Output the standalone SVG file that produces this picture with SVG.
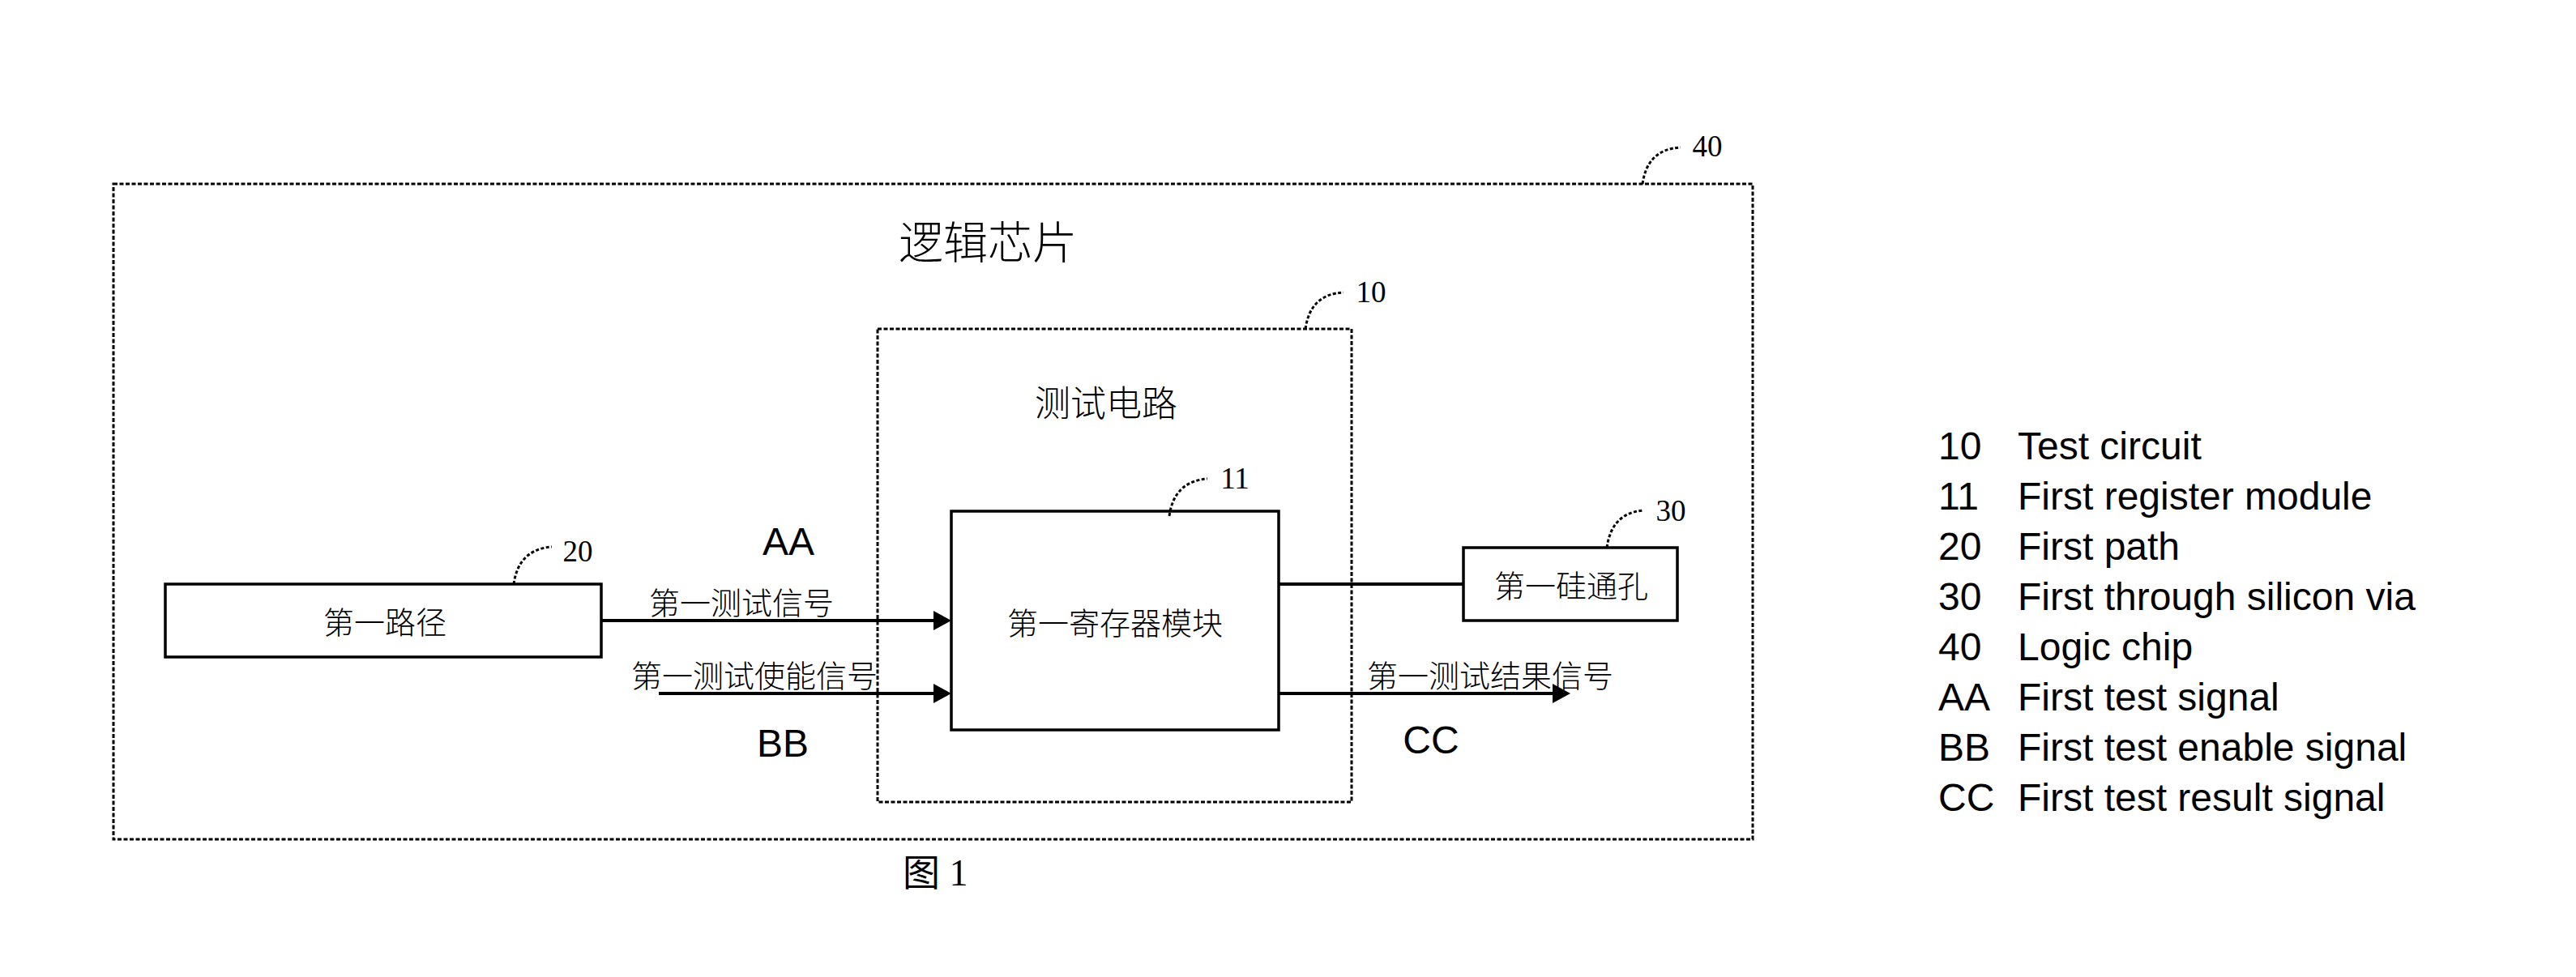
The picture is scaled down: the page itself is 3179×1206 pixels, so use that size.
<svg xmlns="http://www.w3.org/2000/svg" width="3179" height="1206" viewBox="0 0 3179 1206">
<style>
.bg{fill:#fff}
.dashbox{fill:none;stroke:#000;stroke-width:3;stroke-dasharray:5 2.5}
.box{fill:#fff;stroke:#000;stroke-width:3.5}
.lead{fill:none;stroke:#000;stroke-width:3;stroke-dasharray:4 2.5}
.wire{fill:none;stroke:#000;stroke-width:4}
.cjk{font-family:"Noto Sans CJK SC",sans-serif;font-weight:300;fill:#000;text-anchor:middle;dominant-baseline:central}
.num{font-family:"Liberation Serif",serif;font-size:37px;fill:#000;text-anchor:middle}
.sig{font-family:"Liberation Sans",Arial,sans-serif;font-size:48px;fill:#000;text-anchor:middle}
.leg{font-family:"Liberation Sans",Arial,sans-serif;font-size:48px;fill:#000}
</style>
<defs>
<marker id="arr" markerUnits="userSpaceOnUse" markerWidth="22" markerHeight="24" refX="10" refY="12" orient="auto">
<path d="M0,0 L22,12 L0,24 z" fill="#000"/>
</marker>
</defs>
<rect class="bg" x="0" y="0" width="3179" height="1206"/>

<g id="node-40-logic-chip">
<rect class="dashbox" x="140" y="227" width="2023" height="809"/>
<text class="cjk" x="1219" y="295" font-size="55">逻辑芯片</text>
<path class="lead" d="M2027,227 Q2033,184 2074,182"/>
<text class="num" x="2107" y="193">40</text>
</g>

<g id="node-10-test-circuit">
<rect class="dashbox" x="1083" y="406" width="585" height="584"/>
<text class="cjk" x="1365" y="495" font-size="44">测试电路</text>
<path class="lead" d="M1611,406 Q1617,363 1658,361"/>
<text class="num" x="1692" y="373">10</text>
</g>

<g id="node-20-first-path">
<rect class="box" x="204" y="721" width="538" height="90"/>
<text class="cjk" x="475" y="765" font-size="38">第一路径</text>
<path class="lead" d="M634,721 Q640,678 681,675"/>
<text class="num" x="713" y="693">20</text>
</g>

<g id="node-11-register">
<rect class="box" x="1174" y="631" width="404" height="270"/>
<text class="cjk" x="1376" y="766" font-size="38">第一寄存器模块</text>
<path class="lead" d="M1443,637 Q1449,594 1490,591"/>
<text class="num" x="1524" y="603">11</text>
</g>

<g id="node-30-tsv">
<rect class="box" x="1806" y="676" width="264" height="90"/>
<text class="cjk" x="1939" y="720" font-size="38">第一硅通孔</text>
<path class="lead" d="M1983,676 Q1989,633 2028,630"/>
<text class="num" x="2062" y="643">30</text>
</g>

<g id="connectors">
<line class="wire" x1="742" y1="766" x2="1162" y2="766" marker-end="url(#arr)"/>
<line class="wire" x1="813" y1="856" x2="1162" y2="856" marker-end="url(#arr)"/>
<line class="wire" x1="1578" y1="856" x2="1926" y2="856" marker-end="url(#arr)"/>
<line class="wire" x1="1578" y1="721" x2="1806" y2="721"/>
</g>

<g id="signal-labels">
<text class="cjk" x="915" y="741" font-size="38">第一测试信号</text>
<text class="cjk" x="931" y="831" font-size="38">第一测试使能信号</text>
<text class="cjk" x="1839" y="831" font-size="38">第一测试结果信号</text>
<text class="sig" x="973" y="685">AA</text>
<text class="sig" x="966" y="934">BB</text>
<text class="sig" x="1766" y="930">CC</text>
</g>

<text x="1114" y="1093" font-family="Liberation Serif, Noto Sans CJK SC, serif" font-size="46">图 1</text>

<g id="legend">
<text class="leg" x="2392" y="567">10</text><text class="leg" x="2490" y="567">Test circuit</text>
<text class="leg" x="2392" y="629">11</text><text class="leg" x="2490" y="629">First register module</text>
<text class="leg" x="2392" y="691">20</text><text class="leg" x="2490" y="691">First path</text>
<text class="leg" x="2392" y="753">30</text><text class="leg" x="2490" y="753">First through silicon via</text>
<text class="leg" x="2392" y="815">40</text><text class="leg" x="2490" y="815">Logic chip</text>
<text class="leg" x="2392" y="877">AA</text><text class="leg" x="2490" y="877">First test signal</text>
<text class="leg" x="2392" y="939">BB</text><text class="leg" x="2490" y="939">First test enable signal</text>
<text class="leg" x="2392" y="1001">CC</text><text class="leg" x="2490" y="1001">First test result signal</text>
</g>
</svg>
